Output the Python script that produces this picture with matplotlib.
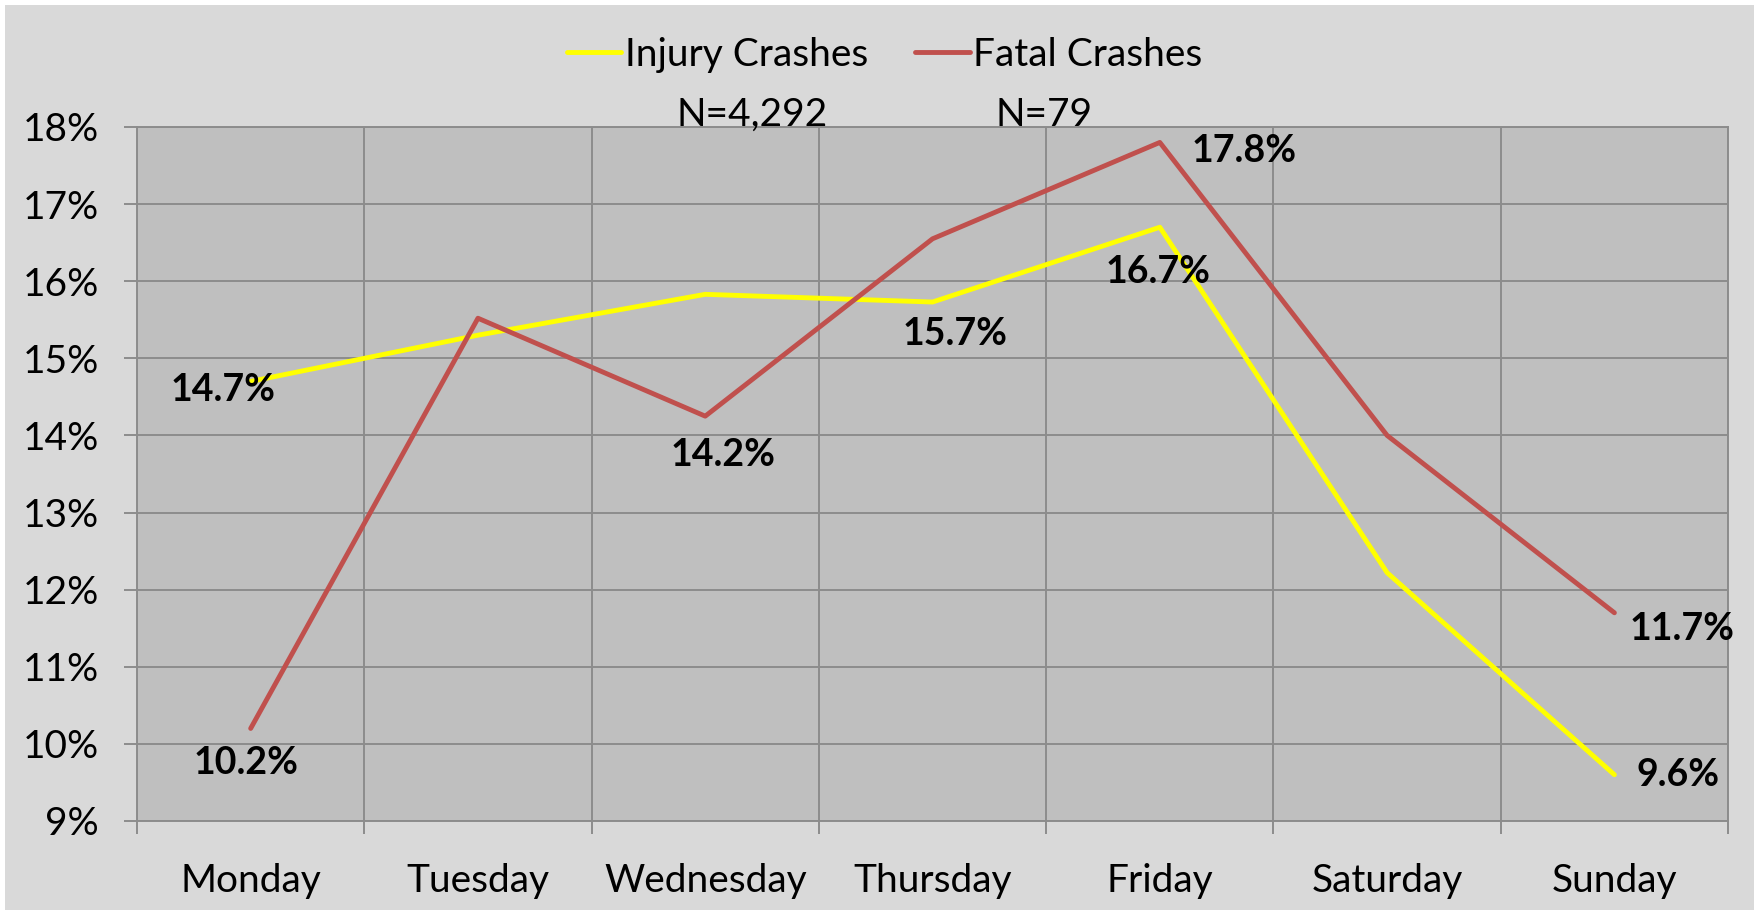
import numpy as np
import matplotlib
matplotlib.use("Agg")
import matplotlib.pyplot as plt
from matplotlib.ticker import PercentFormatter, FixedLocator
from matplotlib.patches import Rectangle

plt.rcParams['font.family'] = ['Lato', 'DejaVu Sans']

# data
days = ['Monday', 'Tuesday', 'Wednesday', 'Thursday', 'Friday', 'Saturday', 'Sunday']
injury = [14.7, 15.3, 15.83, 15.73, 16.7, 12.22, 9.6]
fatal = [10.2, 15.52, 14.25, 16.55, 17.8, 14.0, 11.7]

# which points carry a label, with offsets in points
injury_labels = {0: (-20, -6), 3: (16, -23), 4: (-1, -32), 6: (46, 0)}
fatal_labels = {0: (-3, -25), 2: (13, -28), 4: (61, -6), 6: (49, -12)}

grid_col = '#8c8c8c'

fig = plt.figure(figsize=(17.59, 9.13), dpi=100, facecolor='white')
fig.patches.append(Rectangle((0.003, 0.003), 0.994, 0.992, transform=fig.transFigure,
                             facecolor='#d9d9d9', edgecolor='none', zorder=-10))

ax = fig.add_axes([0.0779, 0.1008, 0.9045, 0.7601])
ax.set_facecolor('#bfbfbf')

x = np.arange(1, len(days) + 1)
l1, = ax.plot(x, injury, color='#ffff00', lw=3.5, solid_capstyle='round', zorder=3, label='Injury Crashes')
l2, = ax.plot(x, fatal, color='#c0504d', lw=3.5, solid_capstyle='round', zorder=4, label='Fatal Crashes')

for i, (dx, dy) in injury_labels.items():
    ax.annotate(f'{injury[i]:.1f}%', (x[i], injury[i]), xytext=(dx, dy), textcoords='offset points',
                ha='center', va='center', fontsize=27, fontweight='bold', color='black', zorder=5)
for i, (dx, dy) in fatal_labels.items():
    ax.annotate(f'{fatal[i]:.1f}%', (x[i], fatal[i]), xytext=(dx, dy), textcoords='offset points',
                ha='center', va='center', fontsize=27, fontweight='bold', color='black', zorder=5)

ax.set_xlim(0.5, len(days) + 0.5)
ax.set_ylim(9, 18)
ax.yaxis.set_major_locator(FixedLocator(np.arange(9, 19, 1)))
ax.yaxis.set_major_formatter(PercentFormatter(decimals=0))
ax.set_xticks(x)
ax.set_xticklabels(days)
ax.xaxis.set_minor_locator(FixedLocator(np.arange(0.5, len(days) + 1, 1)))

ax.grid(True, axis='y', which='major', color=grid_col, lw=1.4)
ax.grid(True, axis='x', which='minor', color=grid_col, lw=1.4)
ax.set_axisbelow(True)
for s in ax.spines.values():
    s.set_color(grid_col)
    s.set_linewidth(1.4)

ax.tick_params(axis='x', which='major', length=0, labelsize=28, pad=30)
ax.tick_params(axis='x', which='minor', length=9.5, width=1.4, color=grid_col, direction='out')
ax.tick_params(axis='y', length=9.5, width=1.4, color=grid_col, labelsize=28, pad=18)

fig.legend(handles=[l1, l2], loc='center', bbox_to_anchor=(0.503, 1 - 55 / 913), ncol=2,
           frameon=False, fontsize=28, handlelength=1.4, handletextpad=0.1, columnspacing=1.2)

fig.text(752 / 1759, 1 - 115 / 913, 'N=4,292', ha='center', va='center', fontsize=28)
fig.text(1044 / 1759, 1 - 115 / 913, 'N=79', ha='center', va='center', fontsize=28)

fig.savefig('out.png', dpi=100, facecolor=fig.get_facecolor())
